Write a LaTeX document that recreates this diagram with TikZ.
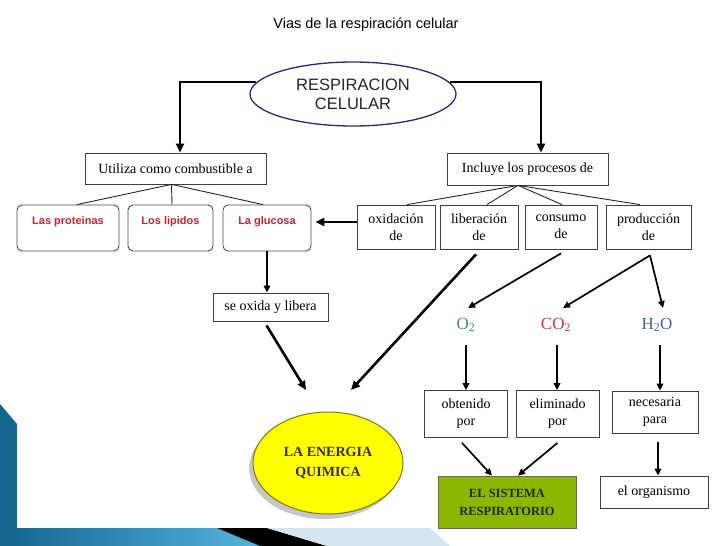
\documentclass[tikz,border=0pt]{standalone}
\usepackage{fontspec}
\setmainfont{Liberation Serif}
\newfontfamily\arialf{Liberation Sans}
\usetikzlibrary{arrows.meta,shapes.geometric,calc}
\definecolor{redtxt}{RGB}{204,34,51}
\definecolor{otwo}{RGB}{70,140,120}
\definecolor{cotwo}{RGB}{210,50,60}
\definecolor{htwo}{RGB}{60,100,180}
\definecolor{greenbox}{RGB}{141,182,0}
\definecolor{greentxt}{RGB}{25,45,10}
\definecolor{ellblue}{RGB}{40,40,130}
\definecolor{yellowe}{RGB}{255,255,0}
\definecolor{yedge}{RGB}{120,120,30}
\definecolor{darkb}{RGB}{20,100,140}
\definecolor{lightbl}{RGB}{85,180,220}
\definecolor{palebl}{RGB}{211,230,238}
\begin{document}
\begin{tikzpicture}[x=1pt,y=-1pt,
  box/.style={draw=black!75, line width=0.8pt, fill=white, inner sep=0pt,
    font=\fontsize{14}{17}\selectfont, align=center},
  rbox/.style={draw=black!70, line width=0.9pt, rounded corners=5pt, fill=white,
    inner xsep=0pt, inner ysep=4pt, text height=15pt, text depth=23pt, minimum height=46pt,
    font=\arialf\bfseries\fontsize{11}{12}\selectfont, text=redtxt},
  chem/.style={font=\fontsize{17}{19}\selectfont},
  thickarr/.style={line width=2.6pt, -{Triangle[length=9pt,width=8pt]}},
  medarr/.style={line width=1.7pt, -{Triangle[length=7pt,width=6.5pt]}},
  thinline/.style={line width=0.9pt, draw=black!85}]
\useasboundingbox (0,0) rectangle (728,546);
\fill[white] (0,0) rectangle (728,546);

% decoration bottom-left
\shade[left color=darkb, right color=lightbl] (0,404) -- (17,424) -- (17,528) -- (217,528) -- (260,546) -- (0,546) -- cycle;
\fill[black] (217,528) -- (267,528) -- (327,546) -- (260,546) -- cycle;
\fill[palebl] (267,528) -- (430,528) -- (450,546) -- (327,546) -- cycle;

% title
\node[font=\arialf\fontsize{14.5}{16}\selectfont] (title) at (366,25) {Vias de la respiración celular};

% main ellipse
\node[ellipse, draw=ellblue, line width=1.3pt, minimum width=206pt, minimum height=64pt, inner sep=0pt,
  align=center, font=\arialf\fontsize{16.5}{19}\selectfont, text=black!85] (resp) at (353,94) {RESPIRACION\\CELULAR};

% second level
\node[box, minimum width=181pt, minimum height=31pt] (util) at (175.5,168.5) {Utiliza como combustible a};
\node[box, minimum width=161pt, minimum height=32pt] (incl) at (527.5,169) {Incluye los procesos de};

% left rounded boxes
\node[rbox, minimum width=102pt] (prot) at (68,228) {Las proteinas};
\node[rbox, minimum width=85pt] (lip) at (170.5,228) {Los lipidos};
\node[rbox, minimum width=88pt] (gluc) at (267,228) {La glucosa};

% right boxes
\node[box, minimum width=78pt, minimum height=44pt] (oxid) at (396,227) {oxidación\\de};
\node[box, minimum width=78pt, minimum height=44pt] (liber) at (479,227) {liberación\\de};
\node[box, minimum width=72pt, minimum height=44pt] (cons) at (561,227) {consumo\\de};
\node[box, minimum width=85pt, minimum height=44pt] (prod) at (648.5,227) {producción\\de};

\node[box, minimum width=115pt, minimum height=28pt] (seox) at (270.5,307) {se oxida y libera};

% chemicals
\node[chem, text=otwo] (o2) at (466,325) {O\textsubscript{2}};
\node[chem, text=cotwo] (co2) at (556,325) {CO\textsubscript{2}};
\node[chem, text=htwo] (h2o) at (657,325) {H\textsubscript{2}O};

\node[box, minimum width=83pt, minimum height=47pt] (obt) at (466,414) {obtenido\\por};
\node[box, minimum width=83pt, minimum height=47pt] (elim) at (557.5,414) {eliminado\\por};
\node[box, minimum width=86pt, minimum height=42pt] (nec) at (655,412) {necesaria\\para};

\node[box, fill=greenbox, draw=black!60, minimum width=138pt, minimum height=52pt,
  font=\bfseries\fontsize{12.5}{18}\selectfont, text=greentxt] (green) at (507,502) {EL SISTEMA\\RESPIRATORIO};
\node[box, minimum width=108pt, minimum height=32pt] (org) at (654,492) {el organismo};

% energy ellipse with shadow
\fill[black!22] (324,468) ellipse [x radius=75pt, y radius=51pt];
\node[ellipse, draw=yedge, line width=1pt, fill=yellowe, minimum width=150pt, minimum height=102pt,
  inner sep=0pt, align=center, font=\bfseries\fontsize{14}{20}\selectfont, text=black!85!olive] (energy) at (328,463) {LA ENERGIA\\QUIMICA};

\coordinate (e1) at (306,390);
\coordinate (e2) at (351,390);

% connectors
\draw[thickarr] (resp.173) -| ([xshift=4.5pt]util.north);
\draw[thickarr] (resp.7) -| ([xshift=13.5pt]incl.north);

\draw[thinline] ([xshift=-4pt]util.south) -- ([xshift=9pt]prot.north);
\draw[thinline] ([xshift=-4pt]util.south) -- ([xshift=1.5pt]lip.north);
\draw[thinline] ([xshift=-4pt]util.south) -- ([xshift=-4pt]gluc.north);

\draw[thinline] ([xshift=-9.5pt]incl.south) -- ([xshift=11pt]oxid.north);
\draw[thinline] ([xshift=-9.5pt]incl.south) -- ([xshift=8pt]liber.north);
\draw[thinline] ([xshift=-9.5pt]incl.south) -- ([xshift=1pt]cons.north);
\draw[thinline] ([xshift=-9.5pt]incl.south) -- ([xshift=-8.5pt]prod.north);

\draw[thickarr] ([yshift=5pt]oxid.west) -- ([yshift=6pt,xshift=4pt]gluc.east);
\draw[medarr] (gluc.south) -- (gluc.south |- seox.north);
\draw[thickarr] ([xshift=-4pt,yshift=-4pt]seox.south) -- (e1);
\draw[thickarr] ([xshift=-3pt,yshift=-5pt]liber.south) -- (e2);

\draw[medarr] ([yshift=-4pt]cons.south) -- ($(o2)+(2,-17)$);
\draw[medarr] ([xshift=1.5pt,yshift=-6pt]prod.south) -- ($(co2)+(7,-17)$);
\draw[medarr] ([xshift=1.5pt,yshift=-6pt]prod.south) -- ($(h2o)+(6,-17)$);

\draw[medarr] ($(o2)+(0,20)$) -- (o2 |- obt.north);
\draw[medarr] ($(co2)+(1,20)$) -- ($(co2 |- elim.north)+(1,0)$);
\draw[medarr] ($(h2o)+(3,20)$) -- ($(h2o |- nec.north)+(3,0)$);

\draw[medarr] ([xshift=-4pt,yshift=-5pt]obt.south) -- ([xshift=-15pt]green.north);
\draw[medarr] ([yshift=-5pt]elim.south) -- ([xshift=11pt]green.north);
\draw[medarr] ($(nec.south)+(3,9)$) -- ($(nec.south |- org.north)+(3,0)$);
\end{tikzpicture}
\end{document}
